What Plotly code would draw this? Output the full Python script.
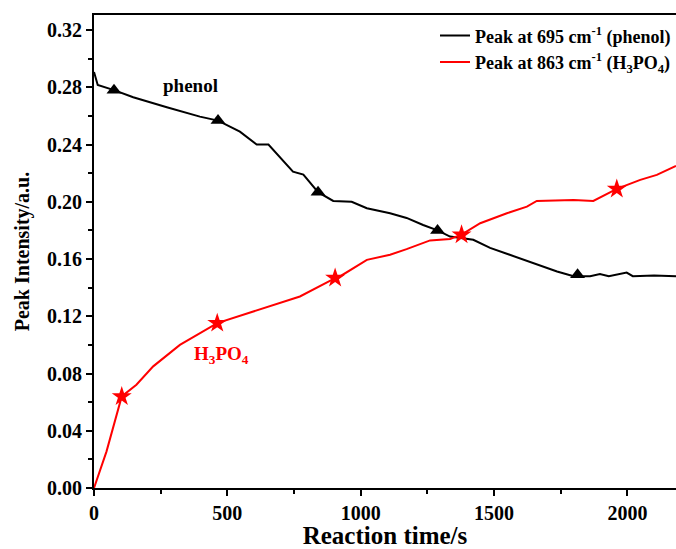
import plotly.graph_objects as go

# Phenol peak (695 cm-1)
phenol_t = [0, 14, 75, 147, 273, 397, 465, 547, 610, 654, 746, 785, 840, 897, 966, 1023, 1110,
            1172, 1234, 1288, 1335, 1422, 1485, 1610, 1736, 1798, 1813, 1860, 1897, 1930, 1997,
            2020, 2100, 2182]
phenol_v = [0.2907, 0.2816, 0.278, 0.273, 0.266, 0.2595, 0.2567, 0.249, 0.240, 0.240, 0.221, 0.219,
            0.2067, 0.2006, 0.200, 0.1955, 0.192, 0.1887, 0.1838, 0.180, 0.1757, 0.1734, 0.1678,
            0.1594, 0.1513, 0.148, 0.148, 0.148, 0.1495, 0.148, 0.1505, 0.148, 0.1485, 0.148]
phenol_mark_t = [75, 465, 840, 1288, 1813]
phenol_mark_v = [0.278, 0.2567, 0.2067, 0.180, 0.149]

# H3PO4 peak (863 cm-1)
acid_t = [0, 47, 104, 159, 222, 322, 462, 597, 772, 904, 922, 1023, 1110, 1172, 1260, 1335, 1378,
          1448, 1548, 1623, 1660, 1798, 1872, 1960, 2048, 2110, 2182]
acid_v = [0.0, 0.0256, 0.064, 0.0722, 0.085, 0.100, 0.1152, 0.1233, 0.1338, 0.1467, 0.1478, 0.1594,
          0.163, 0.1669, 0.173, 0.174, 0.177, 0.185, 0.192, 0.1966, 0.2006, 0.2013, 0.2006, 0.209,
          0.2153, 0.2188, 0.225]
acid_mark_t = [104, 462, 904, 1378, 1960]
acid_mark_v = [0.064, 0.1152, 0.1467, 0.177, 0.209]

FONT = "Liberation Serif"

fig = go.Figure()
fig.add_trace(go.Scatter(x=phenol_t, y=phenol_v, mode="lines", line=dict(color="black", width=2),
                         name="Peak at 695 cm<sup>-1</sup> (phenol)"))
fig.add_trace(go.Scatter(x=acid_t, y=acid_v, mode="lines", line=dict(color="#ff0000", width=2),
                         name="Peak at 863 cm<sup>-1</sup> (H<sub>3</sub>PO<sub>4</sub>)"))
fig.add_trace(go.Scatter(x=phenol_mark_t, y=phenol_mark_v, mode="markers", showlegend=False,
                         marker=dict(symbol="triangle-up", size=13, color="black")))
fig.add_trace(go.Scatter(x=acid_mark_t, y=acid_mark_v, mode="markers", showlegend=False,
                         marker=dict(symbol="star", size=15, color="#ff0000")))

fig.add_annotation(x=360, y=0.281, text="phenol", showarrow=False,
                   font=dict(family=FONT, size=19, color="black", weight="bold"))
fig.add_annotation(x=478, y=0.093, text="H<sub>3</sub>PO<sub>4</sub>", showarrow=False,
                   font=dict(family=FONT, size=19, color="#ff0000", weight="bold"))

axis_common = dict(showline=True, linecolor="black", linewidth=2, mirror=True, ticks="outside",
                   ticklen=6, tickwidth=2, tickcolor="black", showgrid=False, zeroline=False,
                   automargin=False,
                   tickfont=dict(family=FONT, size=20, color="black", weight="bold"))

fig.update_xaxes(range=[0, 2182], tickvals=[0, 500, 1000, 1500, 2000],
                 minor=dict(ticks="outside", tickvals=[250, 750, 1250, 1750], ticklen=4,
                            tickwidth=2, tickcolor="black"),
                 title=dict(text="Reaction time/s", standoff=1,
                            font=dict(family=FONT, size=25, color="black", weight="bold")),
                 **axis_common)
fig.update_yaxes(range=[0, 0.3305], tickvals=[0, 0.04, 0.08, 0.12, 0.16, 0.20, 0.24, 0.28, 0.32],
                 tickformat=".2f",
                 minor=dict(ticks="outside", tickvals=[0.02, 0.06, 0.10, 0.14, 0.18, 0.22, 0.26, 0.30],
                            ticklen=4, tickwidth=2, tickcolor="black"),
                 title=dict(text="Peak Intensity/a.u.", standoff=12,
                            font=dict(family=FONT, size=20, color="black", weight="bold")),
                 **axis_common)

fig.update_layout(width=676, height=549, margin=dict(l=94, r=0, t=15, b=61),
                  plot_bgcolor="white", paper_bgcolor="white",
                  legend=dict(x=1.0, y=0.995, xanchor="right", yanchor="top",
                              bgcolor="rgba(0,0,0,0)", tracegroupgap=0,
                              font=dict(family=FONT, size=18, color="black", weight="bold")))

fig.write_html("out.html", config={"displayModeBar": False},
               post_script="document.body.style.margin='0';")
